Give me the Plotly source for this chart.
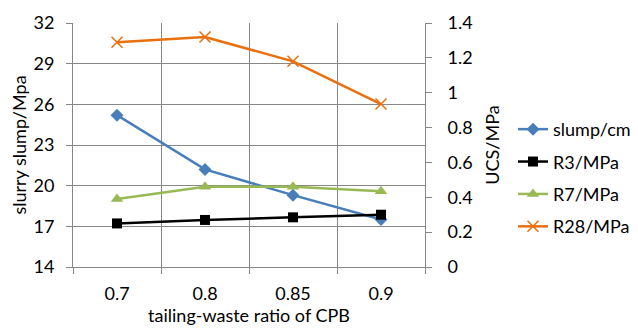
import plotly.graph_objects as go

categories = ["0.7", "0.8", "0.85", "0.9"]
slump = [25.2, 21.2, 19.3, 17.5]
r3 = [0.25, 0.27, 0.285, 0.30]
r7 = [0.39, 0.46, 0.46, 0.435]
r28 = [1.29, 1.32, 1.18, 0.935]

left_ticks = [14, 17, 20, 23, 26, 29, 32]
right_ticks = [0, 0.2, 0.4, 0.6, 0.8, 1.0, 1.2, 1.4]
right_ticktext = ["0", "0.2", "0.4", "0.6", "0.8", "1", "1.2", "1.4"]

FONT = "Lato"
FS = 18
GRID = "#878787"

fig = go.Figure()
fig.add_trace(go.Scatter(x=categories, y=slump, name="slump/cm", mode="lines+markers",
                         line=dict(color="#4A7EBB", width=2.5),
                         marker=dict(symbol="diamond", size=10, color="#4A7EBB"),
                         legendgroup="a"))
fig.add_trace(go.Scatter(x=categories, y=r3, name="R3/MPa", mode="lines+markers", yaxis="y2",
                         line=dict(color="#000000", width=2.5),
                         marker=dict(symbol="square", size=10, color="#000000"),
                         legendgroup="b"))
fig.add_trace(go.Scatter(x=categories, y=r7, name="R7/MPa", mode="lines+markers", yaxis="y2",
                         line=dict(color="#98B954", width=2.5),
                         marker=dict(symbol="triangle-up", size=11, color="#98B954"),
                         legendgroup="c"))
fig.add_trace(go.Scatter(x=categories, y=r28, name="R28/MPa", mode="lines+markers", yaxis="y2",
                         line=dict(color="#E8700E", width=2.5),
                         marker=dict(symbol="x-thin-open", size=11, color="#E8700E",
                                     line=dict(color="#E8700E", width=1.5)),
                         legendgroup="d"))

fig.update_layout(
    width=638, height=330,
    margin=dict(l=73, r=213, t=23, b=63, autoexpand=False),
    paper_bgcolor="white", plot_bgcolor="white",
    font=dict(family=FONT, size=FS, color="#000000"),
    showlegend=True,
    legend=dict(x=1.25, y=0.365, xanchor="left", yanchor="middle",
                font=dict(family=FONT, size=FS), tracegroupgap=6,
                bgcolor="rgba(0,0,0,0)", itemwidth=30),
    xaxis=dict(type="category", tickson="boundaries", showgrid=True, gridcolor=GRID, gridwidth=1,
               ticks="outside", ticklen=6, tickcolor=GRID, showline=True, linecolor=GRID,
               linewidth=1, range=[-0.5, 3.5], ticklabelstandoff=10, automargin=False,
               title=dict(text="tailing-waste ratio of CPB", standoff=5, font=dict(size=FS)),
               tickfont=dict(size=FS)),
    yaxis=dict(range=[14, 32], tickvals=left_ticks, showgrid=True, gridcolor=GRID, gridwidth=1,
               ticks="outside", ticklen=6, tickcolor=GRID, showline=True, linecolor=GRID,
               zeroline=False, ticklabelstandoff=8, automargin=False,
               title=dict(text="slurry slump/Mpa", standoff=2, font=dict(size=FS)),
               tickfont=dict(size=FS)),
    yaxis2=dict(range=[0, 1.4], tickvals=right_ticks, ticktext=right_ticktext, overlaying="y",
                side="right", showgrid=False, ticks="outside", ticklen=6, tickcolor=GRID,
                showline=True, linecolor=GRID, zeroline=False, ticklabelstandoff=12,
                automargin=False,
                title=dict(text="UCS/MPa", standoff=14, font=dict(size=FS)),
                tickfont=dict(size=FS)),
)

fig.write_html("out.html")
